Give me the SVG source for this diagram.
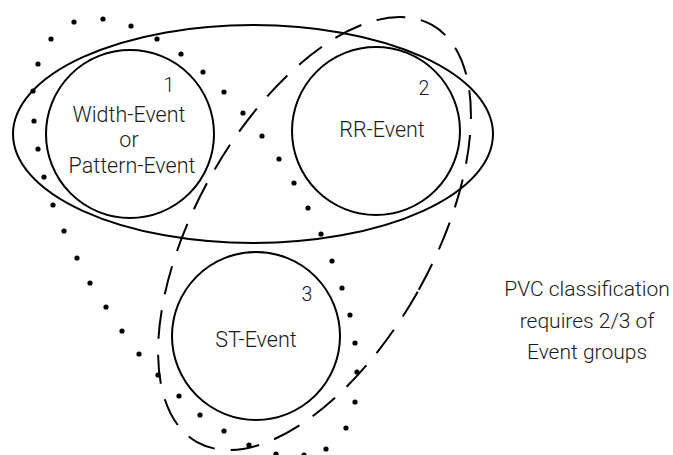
<svg xmlns="http://www.w3.org/2000/svg" width="673" height="455" viewBox="0 0 673 455">
  <style>
    .outline { fill: none; stroke: #000; stroke-width: 2; }
    .dashed { fill: none; stroke: #000; stroke-width: 2; stroke-dasharray: 29 16; }
    .dot { fill: #000; }
    .event { fill: none; stroke: #000; stroke-width: 2; }
    .txt { font-family: Roboto, "Open Sans", sans-serif; font-weight: 300; fill: #1a1a1a; text-anchor: middle; }
    .label { font-size: 21.5px; }
    .num { font-size: 19.5px; }
    .note { font-size: 21px; }
  </style>
  <rect width="673" height="455" fill="#fff"/>

  <!-- group outlines -->
  <g id="connectors">
    <!-- group of events 1 and 2 -->
    <ellipse class="outline" cx="253" cy="134" rx="240" ry="109"/>
    <!-- group of events 2 and 3 -->
    <ellipse class="dashed" cx="314.5" cy="233.5" rx="118.5" ry="239.4" transform="rotate(29.4 314.5 233.5)"/>
    <!-- group of events 1 and 3 -->
    <g id="dotted-group">
      <circle class="dot" cx="74" cy="22" r="2.6"/>
      <circle class="dot" cx="103" cy="19" r="2.6"/>
      <circle class="dot" cx="131" cy="26" r="2.6"/>
      <circle class="dot" cx="157" cy="39" r="2.6"/>
      <circle class="dot" cx="181" cy="54" r="2.6"/>
      <circle class="dot" cx="203" cy="72" r="2.6"/>
      <circle class="dot" cx="224" cy="92" r="2.6"/>
      <circle class="dot" cx="243" cy="113" r="2.6"/>
      <circle class="dot" cx="262" cy="136" r="2.6"/>
      <circle class="dot" cx="279" cy="159" r="2.6"/>
      <circle class="dot" cx="294" cy="183" r="2.6"/>
      <circle class="dot" cx="308" cy="208" r="2.6"/>
      <circle class="dot" cx="321" cy="234" r="2.6"/>
      <circle class="dot" cx="332" cy="261" r="2.6"/>
      <circle class="dot" cx="342" cy="288" r="2.6"/>
      <circle class="dot" cx="350" cy="315" r="2.6"/>
      <circle class="dot" cx="355" cy="343" r="2.6"/>
      <circle class="dot" cx="357" cy="372" r="2.6"/>
      <circle class="dot" cx="355" cy="402" r="2.6"/>
      <circle class="dot" cx="346" cy="428" r="2.6"/>
      <circle class="dot" cx="326" cy="449" r="2.6"/>
      <circle class="dot" cx="304" cy="455" r="2.6"/>
      <circle class="dot" cx="276" cy="454" r="2.6"/>
      <circle class="dot" cx="249" cy="445" r="2.6"/>
      <circle class="dot" cx="224" cy="431" r="2.6"/>
      <circle class="dot" cx="200" cy="415" r="2.6"/>
      <circle class="dot" cx="179" cy="396" r="2.6"/>
      <circle class="dot" cx="158" cy="375" r="2.6"/>
      <circle class="dot" cx="139" cy="354" r="2.6"/>
      <circle class="dot" cx="122" cy="331" r="2.6"/>
      <circle class="dot" cx="106" cy="307" r="2.6"/>
      <circle class="dot" cx="90" cy="283" r="2.6"/>
      <circle class="dot" cx="77" cy="258" r="2.6"/>
      <circle class="dot" cx="64" cy="231" r="2.6"/>
      <circle class="dot" cx="53" cy="205" r="2.6"/>
      <circle class="dot" cx="44" cy="177" r="2.6"/>
      <circle class="dot" cx="38" cy="149" r="2.6"/>
      <circle class="dot" cx="34" cy="121" r="2.6"/>
      <circle class="dot" cx="33" cy="91" r="2.6"/>
      <circle class="dot" cx="38" cy="64" r="2.6"/>
      <circle class="dot" cx="51" cy="39" r="2.6"/>
    </g>
  </g>

  <!-- event 1 -->
  <g id="event-1">
    <circle class="event" cx="130" cy="134" r="84"/>
    <text class="txt num" x="169" y="92">1</text>
    <text class="txt label" x="129" y="121.5">Width-Event</text>
    <text class="txt label" x="129" y="147">or</text>
    <text class="txt label" x="132" y="172.5">Pattern-Event</text>
  </g>

  <!-- event 2 -->
  <g id="event-2">
    <circle class="event" cx="376" cy="131" r="84"/>
    <text class="txt num" x="424" y="95">2</text>
    <text class="txt label" x="382" y="137">RR-Event</text>
  </g>

  <!-- event 3 -->
  <g id="event-3">
    <circle class="event" cx="256" cy="336" r="84"/>
    <text class="txt num" x="307" y="301">3</text>
    <text class="txt label" x="256" y="347">ST-Event</text>
  </g>

  <!-- note -->
  <g id="note">
    <text class="txt note" x="587" y="296">PVC classification</text>
    <text class="txt note" x="587" y="328">requires 2/3 of</text>
    <text class="txt note" x="587" y="359">Event groups</text>
  </g>
</svg>
